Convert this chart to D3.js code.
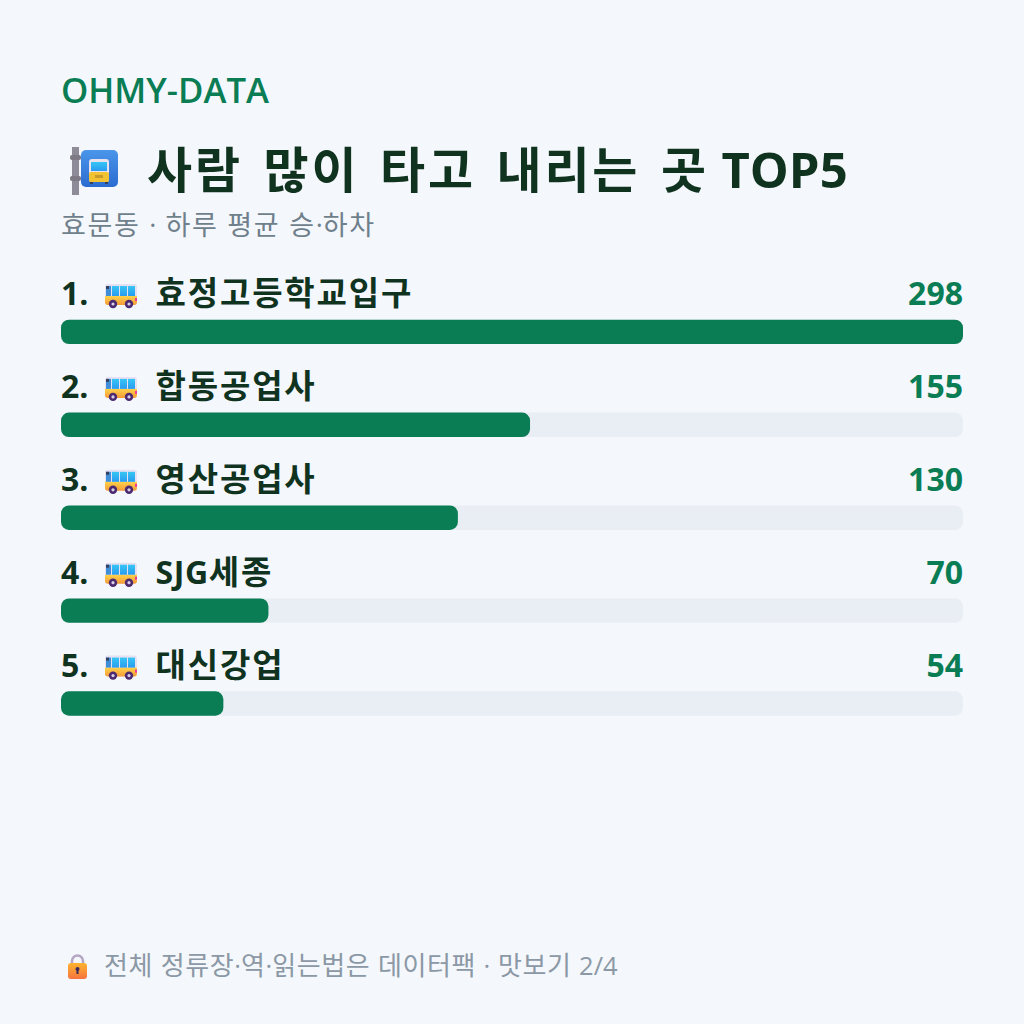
<!DOCTYPE html>
<html lang="ko">
<head>
<meta charset="utf-8">
<script src="https://cdn.jsdelivr.net/npm/d3@7/dist/d3.min.js"></script>
<style>
html,body{margin:0;padding:0;background:#f4f7fb}
svg{display:block}
text{font-family:"Open Sans","Noto Sans CJK KR",sans-serif}
</style>
</head>
<body>
<svg id="chart" width="1024" height="1024"></svg>
<script>
const stops = ["효정고등학교입구", "합동공업사", "영산공업사", "SJG세종", "대신강업"];
const riders = [298, 155, 130, 70, 54];
const brand = "OHMY-DATA";
const heading = "사람 많이 타고 내리는 곳 TOP5";
const subheading = "효문동 · 하루 평균 승·하차";
const footnote = "전체 정류장·역·읽는법은 데이터팩 · 맛보기 2/4";

const green = "#0a7d55", ink = "#10331f", grey = "#6f7f8c", track = "#e9edf4";
const svg = d3.select("#chart");

// Bar lengths are whole percentages of the busiest stop
const share = riders.map(v => Math.round(v / d3.max(riders) * 100));
const x = d3.scaleLinear().domain([0, 100]).range([61, 963]);
const y = d3.scaleBand().domain(stops).range([274, 738.5]).paddingInner(0);

// Writes a string into a text element, giving Hangul runs their own size and tracking
function mixed(sel, str, hangulSize, tracking, latinTracking = 0) {
  sel.selectAll("tspan").data(str.match(/[가-힣]+|[^가-힣]+/g)).join("tspan")
    .attr("font-size", d => /[가-힣]/.test(d) ? hangulSize : null)
    .attr("letter-spacing", d => /[가-힣]/.test(d) ? tracking : latinTracking)
    .style("word-spacing", d => /[A-Z]/.test(d) ? "0px" : null)
    .text(d => d);
}

svg.append("text").attr("x", 61).attr("y", 103).attr("font-size", 34.7).attr("font-weight", 600)
  .attr("fill", green).text(brand);
svg.append("text").attr("x", 147).attr("y", 188).attr("font-size", 49).attr("font-weight", 700)
  .attr("fill", ink).style("word-spacing", "8px").call(mixed, heading, 49, 2.8);
svg.append("text").attr("x", 61).attr("y", 235).attr("font-size", 27).attr("fill", grey)
  .style("word-spacing", "2px").call(mixed, subheading, 27, 1.6);
svg.append("text").attr("x", 104).attr("y", 975).attr("font-size", 25.5).attr("fill", "#8b98a5")
  .style("word-spacing", "1px").call(mixed, footnote, 26, 0.6);

const defs = svg.append("defs");
const grad = (id, a, b) => {
  const g = defs.append("linearGradient").attr("id", id).attr("x1", 0).attr("y1", 0).attr("x2", 0).attr("y2", 1);
  g.append("stop").attr("offset", 0).attr("stop-color", a);
  g.append("stop").attr("offset", 1).attr("stop-color", b);
};
grad("body", "#ffd24a", "#f59a38");
grad("glass", "#35c6f5", "#2a9bf0");
grad("sign", "#4a96ea", "#2b6bd0");
grad("lock", "#fdb42e", "#f6733f");

// Small side-view bus drawn at the origin, 32 wide
function sideBus(g) {
  g.append("rect").attr("x", 0).attr("y", 0).attr("width", 32).attr("height", 21).attr("rx", 3).attr("fill", "#e6e0f2");
  g.append("path").attr("d", "M0 12H32V18a3 3 0 0 1-3 3H3a3 3 0 0 1-3-3Z").attr("fill", "url(#body)");
  g.append("rect").attr("x", 1).attr("y", 2).attr("width", 5).attr("height", 10).attr("fill", "#3f8fd8");
  g.append("rect").attr("x", 1).attr("y", 2).attr("width", 3).attr("height", 3).attr("fill", "#33415f");
  [7, 15, 23].forEach(px => {
    g.append("rect").attr("x", px).attr("y", 2).attr("width", 7).attr("height", 10).attr("fill", "url(#glass)");
  });
  [8, 24].forEach(cx => {
    g.append("circle").attr("cx", cx).attr("cy", 20).attr("r", 4.2).attr("fill", "#4b2a70");
    g.append("circle").attr("cx", cx).attr("cy", 20).attr("r", 1.6).attr("fill", "#d9cfe6");
  });
  g.append("rect").attr("x", 30).attr("y", 14).attr("width", 2).attr("height", 3).attr("fill", "#f0389a");
}

// Stop sign: grey pole with a blue plate and a front-view bus
const sign = svg.append("g").attr("transform", "translate(70,147)");
sign.append("rect").attr("x", 2).attr("y", 0).attr("width", 7).attr("height", 48).attr("fill", "#8f8c99");
sign.append("rect").attr("x", 0).attr("y", 8).attr("width", 11).attr("height", 5).attr("rx", 2).attr("fill", "#7d7a86");
sign.append("rect").attr("x", 0).attr("y", 29).attr("width", 11).attr("height", 5).attr("rx", 2).attr("fill", "#7d7a86");
sign.append("rect").attr("x", 11).attr("y", 3).attr("width", 37).attr("height", 37).attr("rx", 5).attr("fill", "url(#sign)");
sign.append("rect").attr("x", 19).attr("y", 12).attr("width", 20).attr("height", 23).attr("rx", 3).attr("fill", "#e8e2ee");
sign.append("rect").attr("x", 21).attr("y", 15).attr("width", 16).attr("height", 9).attr("fill", "url(#glass)");
sign.append("rect").attr("x", 19).attr("y", 25).attr("width", 20).attr("height", 10).attr("rx", 2).attr("fill", "#f3c233");
sign.append("rect").attr("x", 25).attr("y", 28).attr("width", 8).attr("height", 3).attr("fill", "#c79a2c");
sign.append("rect").attr("x", 20).attr("y", 35).attr("width", 3).attr("height", 2).attr("fill", "#33415f");
sign.append("rect").attr("x", 35).attr("y", 35).attr("width", 3).attr("height", 2).attr("fill", "#33415f");

// Padlock beside the footnote
const lock = svg.append("g").attr("transform", "translate(68,954)");
lock.append("path").attr("d", "M4 10V7a5.5 5.5 0 0 1 11 0V10").attr("fill", "none").attr("stroke", "#b4a6c4").attr("stroke-width", 2.6);
lock.append("rect").attr("x", 0).attr("y", 9).attr("width", 19).attr("height", 16).attr("rx", 3).attr("fill", "url(#lock)");
lock.append("circle").attr("cx", 9.5).attr("cy", 15).attr("r", 2).attr("fill", "#3a2a5c");
lock.append("rect").attr("x", 8.5).attr("y", 15).attr("width", 2).attr("height", 5).attr("fill", "#3a2a5c");

const row = svg.selectAll("g.row").data(stops).join("g").attr("class", "row")
  .attr("transform", d => `translate(0,${y(d)})`);

row.append("text").attr("x", 61).attr("y", 31).attr("font-size", 32).attr("font-weight", 700).attr("fill", ink)
  .text((d, i) => `${i + 1}.`);
row.append("g").attr("transform", "translate(105,10)").each(function () { sideBus(d3.select(this)); });
row.append("text").attr("x", 155.5).attr("y", 31).attr("font-size", 32).attr("font-weight", 700).attr("fill", ink)
  .each(function (d) { mixed(d3.select(this), d, 33, 1.85, 0.6); });
row.append("text").attr("x", 963).attr("y", 31).attr("text-anchor", "end").attr("font-size", 32).attr("font-weight", 700)
  .attr("fill", green).text((d, i) => riders[i]);

row.append("rect").attr("x", x(0)).attr("y", 45.7).attr("width", x(100) - x(0)).attr("height", 24.4).attr("rx", 8).attr("fill", track);
row.append("rect").attr("x", x(0)).attr("y", 45.7).attr("width", (d, i) => x(share[i]) - x(0)).attr("height", 24.4).attr("rx", 8).attr("fill", green);
</script>
</body>
</html>
